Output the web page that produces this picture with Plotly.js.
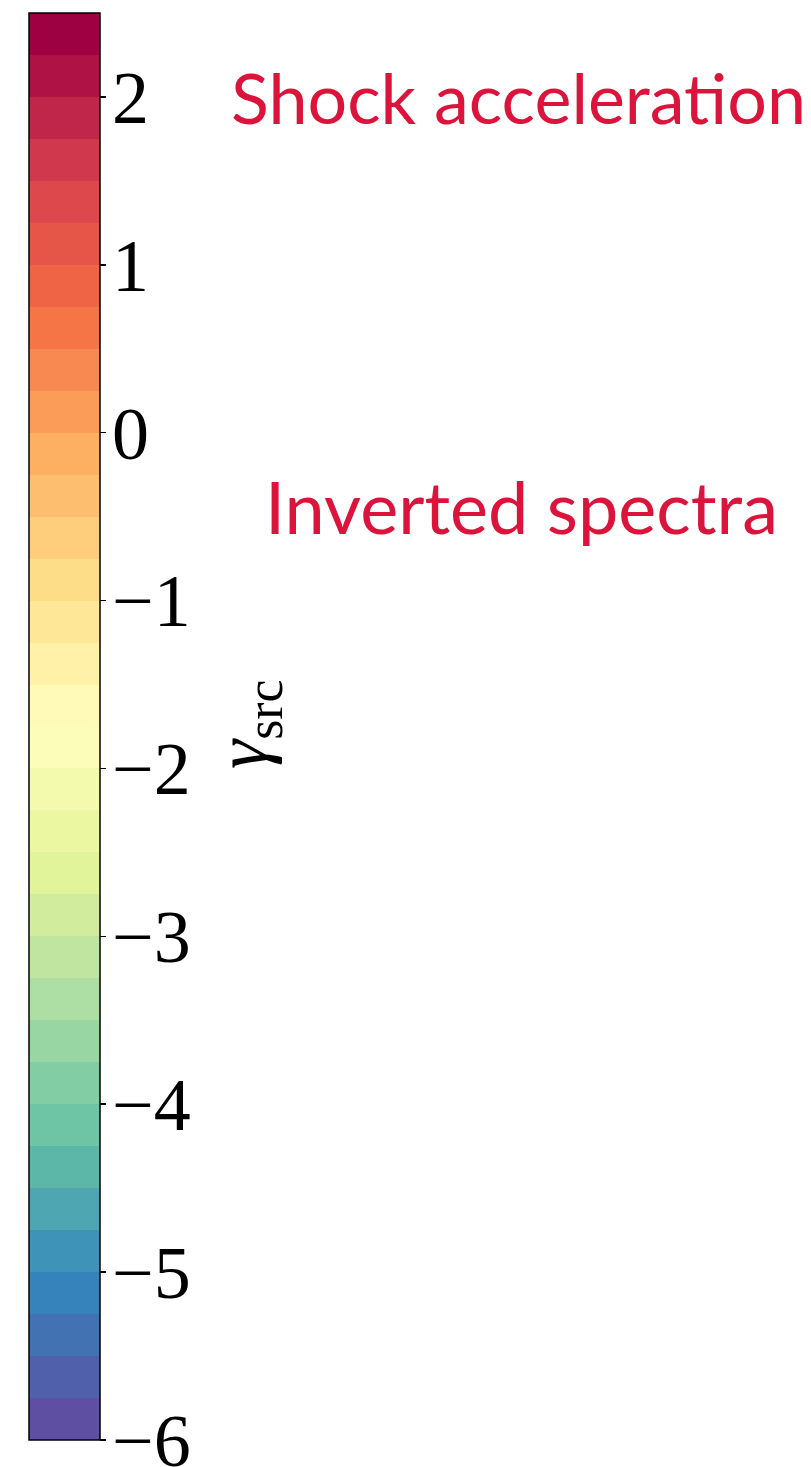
<!DOCTYPE html>
<html>
<head>
<meta charset="utf-8">
<script src="https://cdn.plot.ly/plotly-3.0.1.min.js"></script>
<style>
html,body{margin:0;padding:0;background:#fff;}
/* pull the colour-bar tick labels a little closer to their ticks */
#chart .colorbar text{translate:-9px 0;}
</style>
</head>
<body>
<div id="chart" style="width:811px;height:1467px;"></div>
<script>
// Colour range of the source spectral index and its band width
const valueMin = -6;
const valueMax = 2.5;
const bandStep = 0.25;
const tickValues = [-6, -5, -4, -3, -2, -1, 0, 1, 2];

// Spectral_r anchor colours, from low to high values
const spectralAnchors = ['#5e4fa2', '#3288bd', '#66c2a5', '#abdda4', '#e6f598', '#ffffbf',
                         '#fee08b', '#fdae61', '#f46d43', '#d53e4f', '#9e0142'];

// Text drawn next to the bar
const colorbarTitle = '<i>γ</i><sub>src</sub>';
const regionLabels = ['Shock acceleration', 'Inverted spectra'];

const W = 811, H = 1467;

function hexToRgb(h) {
  return [parseInt(h.slice(1, 3), 16), parseInt(h.slice(3, 5), 16), parseInt(h.slice(5, 7), 16)];
}
function sampleMap(t) {
  const s = t * (spectralAnchors.length - 1);
  const i = Math.min(Math.floor(s), spectralAnchors.length - 2);
  const f = s - i;
  const a = hexToRgb(spectralAnchors[i]), b = hexToRgb(spectralAnchors[i + 1]);
  const c = a.map((v, k) => Math.round(v + (b[k] - v) * f));
  return 'rgb(' + c.join(',') + ')';
}

// Discrete colourscale: one flat band per step
const nBands = Math.round((valueMax - valueMin) / bandStep);
const colorscale = [];
for (let i = 0; i < nBands; i++) {
  const col = sampleMap(i / (nBands - 1));
  colorscale.push([i / nBands, col]);
  colorscale.push([(i + 1) / nBands, col]);
}

// Bar geometry in pixels
const barLeft = 29, barTop = 13, barBottom = 1440, barWidth = 71;
const serif = 'Liberation Serif, serif';

const trace = {
  type: 'scatter',
  mode: 'markers',
  x: [null], y: [null],
  hoverinfo: 'skip',
  showlegend: false,
  marker: {
    color: [valueMin],
    cmin: valueMin, cmax: valueMax,
    colorscale: colorscale,
    showscale: true,
    colorbar: {
      x: barLeft / W, xanchor: 'left', xpad: 0,
      y: 1 - barTop / H, yanchor: 'top', ypad: 0,
      len: barBottom - barTop, lenmode: 'pixels',
      thickness: barWidth, thicknessmode: 'pixels',
      outlinewidth: 1.5, outlinecolor: '#000',
      tickmode: 'array', tickvals: tickValues,
      ticks: 'outside', ticklen: 6, tickwidth: 1.5, tickcolor: '#000',
      ticklabeloverflow: 'allow',
      tickfont: {family: serif, size: 74, color: '#000'}
    }
  }
};

const red = '#dc143c';
const annotations = [
  {text: regionLabels[0], x: 229 / W, xanchor: 'left', y: 1 - 97 / H, yanchor: 'middle',
   font: {family: 'Lato, sans-serif', size: 70, color: red}},
  {text: regionLabels[1], x: 263 / W, xanchor: 'left', y: 1 - 506 / H, yanchor: 'middle',
   font: {family: 'Lato, sans-serif', size: 72, color: red}},
  {text: colorbarTitle, x: 246 / W, xanchor: 'center', y: 1 - 724 / H, yanchor: 'middle',
   textangle: -90, font: {family: serif, size: 74, color: '#000'}}
].map(a => Object.assign(a, {xref: 'paper', yref: 'paper', showarrow: false}));

const layout = {
  width: W, height: H,
  margin: {l: 0, r: 0, t: 0, b: 0, pad: 0, autoexpand: false},
  paper_bgcolor: '#fff', plot_bgcolor: '#fff',
  xaxis: {visible: false},
  yaxis: {visible: false},
  annotations: annotations,
  showlegend: false
};

Plotly.newPlot('chart', [trace], layout, {displayModeBar: false, staticPlot: true});
</script>
</body>
</html>
